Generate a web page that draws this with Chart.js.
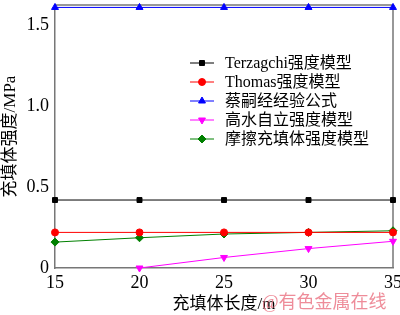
<!DOCTYPE html>
<html>
<head>
<meta charset="utf-8">
<script src="https://cdn.jsdelivr.net/npm/chart.js@4"></script>
<style>
  html, body { margin: 0; padding: 0; background: #fff; }
  #wrap { width: 400px; height: 315px; }
</style>
</head>
<body>
<div id="wrap"><canvas id="strengthChart"></canvas></div>
<script>
// 充填体长度 / m
const lengths = [15, 20, 25, 30, 35];
const seriesNames = ['Terzagchi强度模型', 'Thomas强度模型', '蔡嗣经经验公式', '高水自立强度模型', '摩擦充填体强度模型'];
const terzagchi = [0.42, 0.42, 0.42, 0.42, 0.42];
const thomas = [0.22, 0.22, 0.22, 0.22, 0.22];
const caiEmpirical = [1.61, 1.61, 1.61, 1.61, 1.61];
const highWater = [null, 0.0, 0.065, 0.12, 0.165];
const friction = [0.16, 0.187, 0.21, 0.22, 0.23];
const yTicks = [0, 0.5, 1.0, 1.5];

const serif = "'Liberation Serif', 'Times New Roman', 'Noto Sans CJK SC', serif";

function pts(vals) {
    return lengths.map(function(x, i) { return { x: x, y: vals[i] }; });
}

const styles = [
    { color: '#000000', point: 'rect', rot: 0, r: 3.5 },
    { color: '#ff0000', point: 'circle', rot: 0, r: 3.5 },
    { color: '#0000ff', point: 'triangle', rot: 0, r: 4 },
    { color: '#ff00ff', point: 'triangle', rot: 180, r: 4 },
    { color: '#008000', point: 'rectRot', rot: 0, r: 4 }
];
const allValues = [terzagchi, thomas, caiEmpirical, highWater, friction];

const datasets = allValues.map(function(vals, i) {
    const s = styles[i];
    return {
        label: seriesNames[i],
        data: pts(vals),
        borderColor: s.color,
        backgroundColor: s.color,
        borderWidth: 1,
        pointStyle: s.point,
        pointRotation: s.rot,
        pointRadius: s.r,
        clip: false
    };
});

// frame on top/right, legend inside the plot, watermark
const overlay = {
    id: 'overlay',
    beforeDatasetsDraw: function(chart) {
        const a = chart.chartArea;
        const c = chart.ctx;
        c.save();
        c.strokeStyle = '#777';
        c.lineWidth = 1.5;
        c.beginPath();
        c.moveTo(a.left, a.top);
        c.lineTo(a.right, a.top);
        c.lineTo(a.right, a.bottom);
        c.stroke();
        c.restore();
    },
    afterDraw: function(chart) {
        const c = chart.ctx;
        c.save();
        const x0 = 190, y0 = 63, dy = 19;
        chart.data.datasets.forEach(function(ds, i) {
            const y = y0 + i * dy;
            c.strokeStyle = ds.borderColor;
            c.lineWidth = 1;
            c.beginPath();
            c.moveTo(x0, y);
            c.lineTo(x0 + 24, y);
            c.stroke();
            c.fillStyle = ds.backgroundColor;
            c.strokeStyle = ds.borderColor;
            Chart.helpers.drawPoint(c, { pointStyle: ds.pointStyle, rotation: ds.pointRotation, radius: ds.pointRadius, borderWidth: 1 }, x0 + 12, y);
            c.fillStyle = '#000';
            c.font = '16px ' + serif;
            c.textBaseline = 'middle';
            c.textAlign = 'left';
            c.fillText(ds.label, x0 + 35, y + 1);
        });
        c.font = '18px ' + serif;
        c.fillStyle = 'rgba(235, 120, 135, 0.85)';
        c.textAlign = 'left';
        c.textBaseline = 'middle';
        c.fillText('@有色金属在线', 262, 303);
        c.restore();
    }
};

// keep tick labels from pushing the plot area inward
function noPad(scale) {
    scale.paddingTop = 0;
    scale.paddingBottom = 0;
    scale.paddingLeft = 0;
    scale.paddingRight = 0;
}

const config = {
    type: 'line',
    data: { datasets: datasets },
    options: {
        responsive: true,
        maintainAspectRatio: false,
        animation: false,
        layout: { padding: { top: 1, right: 7, bottom: 0, left: 0 } },
        plugins: {
            legend: { display: false },
            tooltip: { enabled: false }
        },
        scales: {
            x: {
                type: 'linear',
                min: 15,
                max: 35,
                border: { color: '#777', width: 1.5 },
                grid: { display: false, drawTicks: false },
                ticks: { stepSize: 5, color: '#000', font: { family: serif, size: 18 }, padding: 4, maxRotation: 0 },
                title: { display: true, text: '充填体长度/m', color: '#000', font: { family: serif, size: 17 }, padding: { top: 6, bottom: 0 } },
                afterFit: function(scale) { scale.height = 47; noPad(scale); }
            },
            y: {
                min: 0,
                max: 1.625,
                border: { color: '#777', width: 1.5 },
                grid: { display: false, tickLength: 4 },
                ticks: {
                    color: '#000',
                    font: { family: serif, size: 18 },
                    padding: 2,
                    callback: function(v) { return v === 0 ? '0' : v.toFixed(1); }
                },
                afterBuildTicks: function(scale) {
                    scale.ticks = yTicks.map(function(v) { return { value: v }; });
                },
                title: { display: true, text: '充填体强度/MPa', color: '#000', font: { family: serif, size: 17 }, padding: { top: 0, bottom: 2 } },
                afterFit: function(scale) { scale.width = 55; noPad(scale); }
            }
        }
    },
    plugins: [overlay]
};

const strengthChart = new Chart(document.getElementById('strengthChart').getContext('2d'), config);
</script>
</body>
</html>
